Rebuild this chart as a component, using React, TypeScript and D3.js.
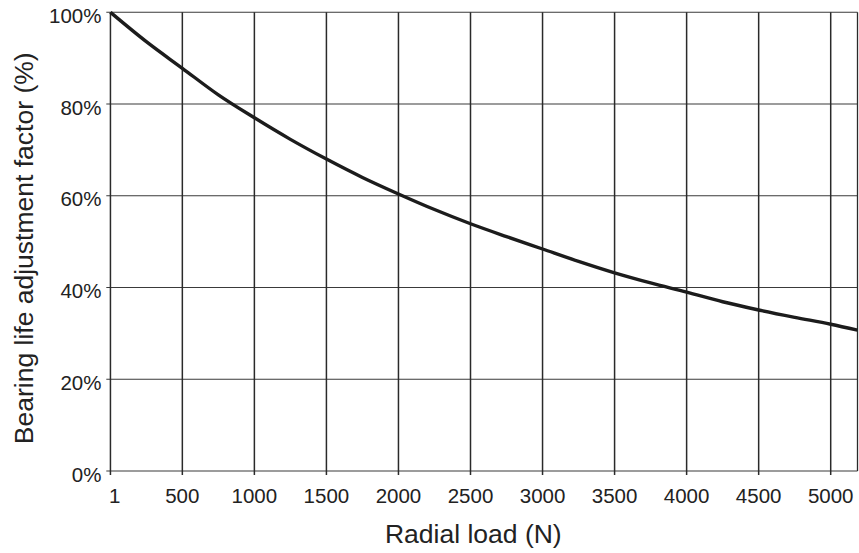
import React from "react";
import * as d3 from "d3";

const loads = [1, 250, 500, 750, 1000, 1250, 1500, 1750, 2000, 2250, 2500, 2750, 3000, 3250, 3500, 3750, 4000, 4250, 4500, 4750, 5000, 5186];
const factors = [100, 93.6, 87.8, 82.0, 77.0, 72.3, 68.0, 64.0, 60.4, 57.0, 53.9, 51.1, 48.4, 45.7, 43.2, 41.0, 39.0, 36.9, 35.1, 33.5, 32.0, 30.7];
const xTicks = [1, 500, 1000, 1500, 2000, 2500, 3000, 3500, 4000, 4500, 5000];
const yTicks = [0, 20, 40, 60, 80, 100];

const W = 859;
const H = 553;
const FONT = "'Liberation Sans', Arial, Helvetica, sans-serif";

export default function App() {
  const x = d3.scaleLinear().domain([0, 5186]).range([110.3, 857.5]);
  const y = d3.scaleLinear().domain([0, 100]).range([471, 12.3]);
  const line = d3
    .line<number>()
    .x((_, i) => x(loads[i]))
    .y((d) => y(d))
    .curve(d3.curveMonotoneX);
  const x0 = x.range()[0];
  const x1 = x.range()[1];
  const yb = y(0);
  const yt = y(100);
  return (
    <svg
      width={W}
      height={H}
      style={{ position: "fixed", left: 0, top: 0, background: "#fff" }}
      fontFamily={FONT}
    >
      <rect x={0} y={0} width={W} height={H} fill="#fff" />
      {yTicks.map((t) => (
        <g key={"y" + t}>
          <line x1={x0 - 4} x2={x1} y1={y(t)} y2={y(t)} stroke="#3a3a3a" strokeWidth={1.1} />
          <text x={101.5} y={y(t) + 10.7} textAnchor="end" fontSize={20.5} fill="#222">
            {t + "%"}
          </text>
        </g>
      ))}
      {xTicks.map((t) => (
        <g key={"x" + t}>
          <line x1={x(t)} x2={x(t)} y1={yt} y2={yb + 4} stroke="#2a2a2a" strokeWidth={1.5} />
          <text
            x={t === 1 ? x(t) - 1.5 : x(t)}
            y={503.3}
            textAnchor={t === 1 ? "start" : "middle"}
            fontSize={20.5}
            fill="#222"
          >
            {String(t)}
          </text>
        </g>
      ))}
      <line x1={x1} x2={x1} y1={yt} y2={yb} stroke="#2a2a2a" strokeWidth={1.3} />
      <path d={line(factors) || ""} fill="none" stroke="#1c1c1c" strokeWidth={3.4} strokeLinejoin="round" />
      <text x={473.3} y={542.7} textAnchor="middle" fontSize={26.5} fill="#222">
        Radial load (N)
      </text>
      <text
        transform={`translate(33.3,248.3) rotate(-90)`}
        textAnchor="middle"
        fontSize={26.5}
        fill="#222"
      >
        Bearing life adjustment factor (%)
      </text>
    </svg>
  );
}
